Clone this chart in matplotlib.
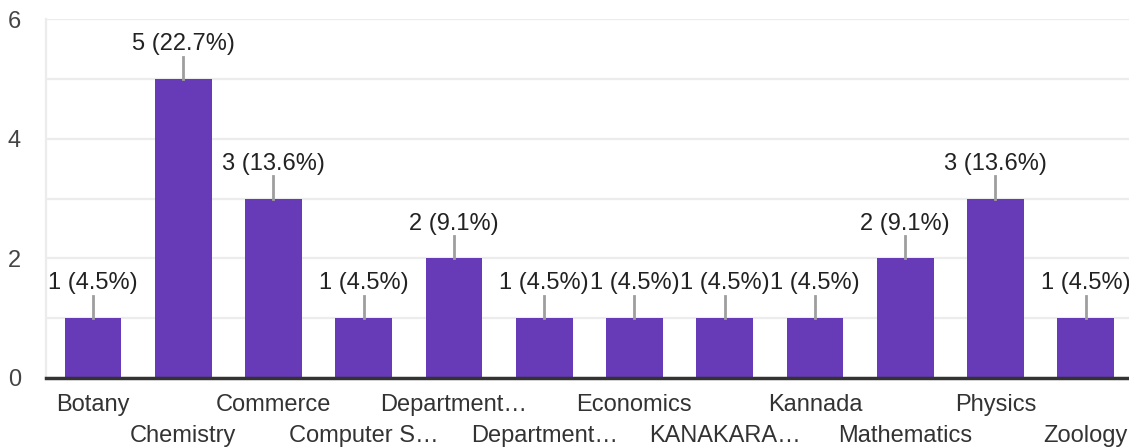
import matplotlib.pyplot as plt

categories = ["Botany", "Chemistry", "Commerce", "Computer S\u2026", "Department\u2026",
              "Department\u2026", "Economics", "KANAKARA\u2026", "Kannada",
              "Mathematics", "Physics", "Zoology"]
counts = [1, 5, 3, 1, 2, 1, 1, 1, 1, 2, 3, 1]
percents = ["4.5", "22.7", "13.6", "4.5", "9.1", "4.5", "4.5", "4.5", "4.5", "9.1", "13.6", "4.5"]
yticks = [0, 2, 4, 6]

plt.rcParams["font.family"] = ["Liberation Sans", "DejaVu Sans"]
FS = 17

fig = plt.figure(figsize=(11.29, 4.47), dpi=100)
ax = fig.add_axes([46 / 1129, 1 - 378 / 447, 1 - 46 / 1129, (378 - 19) / 447])

x = list(range(len(categories)))
ax.bar(x, counts, width=0.63, color="#673ab7", zorder=3)

ax.set_xlim(-0.52, 11.48)
ax.set_ylim(0, 6)
ax.set_yticks(yticks)
ax.set_yticklabels([str(t) for t in yticks], fontsize=FS, color="#444444")
ax.tick_params(axis="y", length=0, pad=18)
ax.set_xticks([])

# light horizontal grid
for g in [1, 2, 3, 4, 5, 6]:
    ax.axhline(g, color="#ececec", lw=1.6, zorder=1)

for side in ["top", "right"]:
    ax.spines[side].set_visible(False)
ax.spines["left"].set_color("#ececec")
ax.spines["left"].set_linewidth(1.6)
ax.spines["bottom"].set_color("#333333")
ax.spines["bottom"].set_linewidth(2.5)
ax.spines["bottom"].set_zorder(4)

# value labels with leader lines
lead = 22 / 59.8
for xi, c, p in zip(x, counts, percents):
    ax.plot([xi, xi], [c, c + lead], color="#9e9e9e", lw=2, zorder=4, clip_on=False)
    ax.text(xi, c + lead + 0.03, f"{c} ({p}%)", ha="center", va="bottom",
            fontsize=FS, color="#222222", clip_on=False)

# staggered category labels
for xi, name in zip(x, categories):
    ypix = 405 if xi % 2 == 0 else 436
    xd = ax.transData.transform((xi, 0))[0]
    fig.text(xd / fig.bbox.width, 1 - ypix / 447, name, ha="center", va="center",
             fontsize=FS, color="#333333")

fig.savefig("out.png", dpi=100, facecolor="white")
